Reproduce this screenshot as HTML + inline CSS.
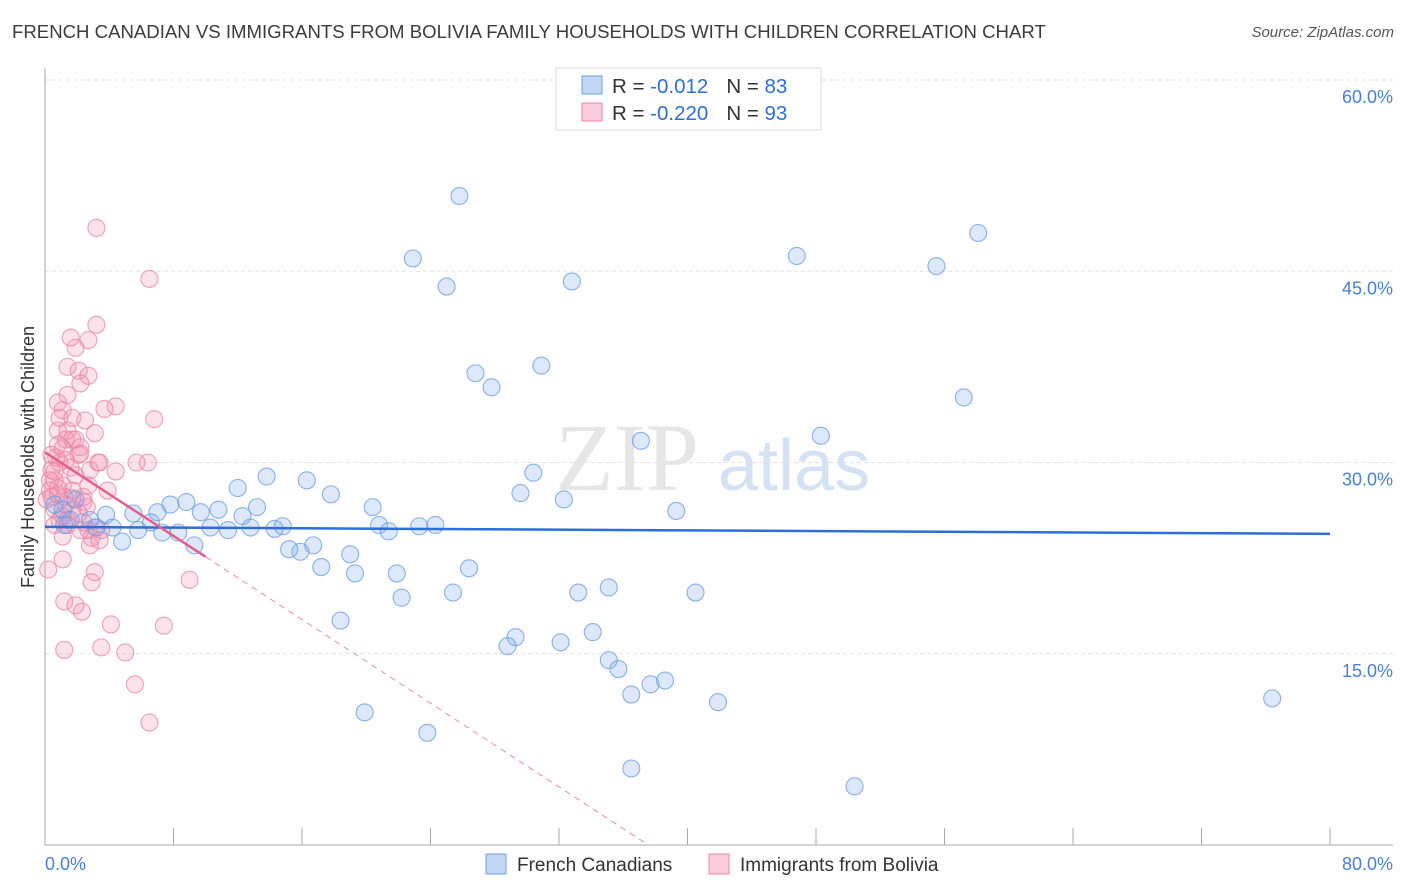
<!DOCTYPE html>
<html><head><meta charset="utf-8"><style>
body{margin:0;background:#fff;font-family:"Liberation Sans",sans-serif}
#wrap{position:relative;width:1406px;height:892px;overflow:hidden}
.title{position:absolute;left:12px;top:21px;font-size:18.6px;color:#3b3b3b}
.src{position:absolute;right:12px;top:24px;font-size:15px;color:#555;font-style:italic}
</style></head><body>
<div id="wrap">
<div class="title">FRENCH CANADIAN VS IMMIGRANTS FROM BOLIVIA FAMILY HOUSEHOLDS WITH CHILDREN CORRELATION CHART</div>
<div class="src">Source: ZipAtlas.com</div>
<svg id="svg" width="1406" height="892" style="position:absolute;left:0;top:0"></svg>
</div>
<script>
const xTicks=[0,8,16,24,32,40,48,56,64,72,80];
const yTicks=[15,30,45,60];
const blueX=[25.8,22.9,25.0,32.8,46.8,55.5,58.1,26.8,27.8,30.9,57.2,37.1,48.3,30.4,29.6,32.3,39.3,16.3,13.8,17.8,12.0,8.8,7.8,9.7,10.8,13.2,20.4,5.5,7.0,3.8,1.1,1.2,3.2,4.2,5.8,6.6,7.3,8.3,10.3,11.4,12.3,12.8,14.3,14.8,20.8,21.4,23.3,24.3,4.8,9.3,15.2,15.9,16.7,19.0,26.4,19.3,21.9,17.2,25.4,22.2,33.2,35.1,40.5,18.4,29.3,28.8,32.1,34.1,35.1,35.7,36.5,37.7,38.6,41.9,76.4,19.9,23.8,36.5,50.4,1.9,2.8,0.6,1.6];
const blueY=[50.9,46.0,43.8,44.2,46.2,45.4,48.0,37.0,35.9,37.6,35.1,31.7,32.1,29.2,27.6,27.1,26.2,28.6,28.9,27.5,28.0,26.9,26.7,26.1,26.3,26.5,26.5,26.0,26.1,25.9,26.3,25.1,24.9,24.9,24.7,25.3,24.5,24.5,24.9,24.7,25.8,24.9,24.8,25.0,25.1,24.6,25.0,25.1,23.8,23.5,23.2,23.0,23.5,22.8,21.7,21.3,21.3,21.8,19.8,19.4,19.8,20.2,19.8,17.6,16.3,15.6,15.9,16.7,14.5,13.8,11.8,12.6,12.9,11.2,11.5,10.4,8.8,6.0,4.6,27.1,25.5,26.7,25.5];
const pinkX=[3.2,6.5,3.2,1.6,2.7,1.9,1.4,2.1,2.7,2.2,3.7,4.4,6.8,1.4,0.8,1.1,0.9,1.7,0.8,1.3,1.7,0.8,2.2,0.4,0.9,1.6,3.3,2.8,4.4,5.7,6.4,0.4,0.6,1.1,0.3,0.8,1.9,2.2,1.2,0.4,2.4,1.7,1.1,1.4,2.1,2.4,2.7,2.9,2.2,1.1,1.3,0.6,3.1,2.4,1.7,1.1,0.2,3.1,2.9,9.0,1.2,1.9,2.3,4.1,7.4,3.5,1.2,5.0,5.6,6.5,3.4,1.3,0.3,2.7,0.9,1.9,2.5,1.4,0.7,3.1,1.7,0.8,3.4,2.8,0.6,2.1,1.1,3.5,0.1,0.6,1.4,2.6,3.9];
const pinkY=[48.4,44.4,40.8,39.8,39.6,39.0,37.5,37.2,36.8,36.2,34.2,34.4,33.4,35.3,34.7,34.1,33.5,33.5,32.5,31.8,31.8,31.4,31.2,30.6,30.0,29.6,30.0,29.4,29.3,30.0,30.0,29.4,28.6,28.2,27.8,27.5,29.0,30.7,27.3,27.3,26.9,26.3,25.8,25.5,26.0,25.3,24.7,24.1,24.7,24.2,26.7,25.1,24.9,27.3,27.8,22.4,21.6,21.4,20.6,20.8,19.1,18.8,18.3,17.3,17.2,15.5,15.3,15.1,12.6,9.6,30.0,30.2,28.6,28.2,25.5,31.8,33.3,32.5,30.4,32.3,27.2,28.0,23.9,23.5,29.3,30.6,31.1,24.7,27.1,26.3,25.1,26.5,27.8];
const blueTrend=[24.95,-0.0068];
const pinkTrend=[30.8,-0.82];
const X=v=>45+v*(1285/80), Y=v=>80+(60-v)*12.75;
const svg=document.getElementById('svg'),NS='http://www.w3.org/2000/svg';
function mk(t,a,p){const e=document.createElementNS(NS,t);for(const k in a)e.setAttribute(k,a[k]);(p||svg).appendChild(e);return e;}
let wm=mk('text',{x:555,y:490,'font-size':96,'font-family':'Liberation Serif,serif',fill:'#e6e6e6'});wm.textContent='ZIP';

let wm2=mk('text',{x:718,y:490,'font-size':72,'font-family':'Liberation Sans,sans-serif',fill:'#d5e2f3'});wm2.textContent='atlas';

yTicks.forEach(t=>{let g=mk('line',{x1:45,x2:1393,y1:Y(t),y2:Y(t),stroke:'#e2e2e2','stroke-dasharray':'4,3'});

let l=mk('text',{x:1393,y:Y(t)+23,'text-anchor':'end','font-size':18,fill:'#4a7fd4'});l.textContent=t.toFixed(1)+'%';
});
let ax=mk('line',{x1:45,x2:45,y1:68,y2:845,stroke:'#aaa'});
let bx=mk('line',{x1:45,x2:1393,y1:845,y2:845,stroke:'#aaa'});
xTicks.forEach(t=>{let k=mk('line',{x1:X(t),x2:X(t),y1:828,y2:845,stroke:'#aaa'});});
[[0,'start',45],[80,'end',1393]].forEach(([v,a,x])=>{let l=mk('text',{x:x,y:870,'text-anchor':a,'font-size':18,fill:'#4a7fd4'});l.textContent=v.toFixed(1)+'%';
});
let yt=mk('text',{transform:'translate(34,457) rotate(-90)','text-anchor':'middle','font-size':18,fill:'#333'});yt.textContent='Family Households with Children';

pinkX.forEach((x,i)=>{let c=mk('circle',{cx:X(x),cy:Y(pinkY[i]),r:8.5,fill:'rgba(244,143,177,0.25)',stroke:'rgba(232,137,168,0.8)','stroke-width':1.1});
});
blueX.forEach((x,i)=>{let c=mk('circle',{cx:X(x),cy:Y(blueY[i]),r:8.5,fill:'rgba(120,165,235,0.25)',stroke:'rgba(111,159,227,0.8)','stroke-width':1.1});
});
let bl=mk('line',{x1:X(0),x2:X(80),y1:Y(blueTrend[0]),y2:Y(blueTrend[0]+blueTrend[1]*80),stroke:'#2d6fd6','stroke-width':2.5});

const pe=-pinkTrend[0]/pinkTrend[1];
let pl=mk('line',{x1:X(0),x2:X(10),y1:Y(pinkTrend[0]),y2:Y(pinkTrend[0]+pinkTrend[1]*10),stroke:'#e4608c','stroke-width':2.5});

let pd=mk('line',{x1:X(10),x2:X(pe),y1:Y(pinkTrend[0]+pinkTrend[1]*10),y2:Y(0),stroke:'#e889a8','stroke-width':1,'stroke-dasharray':'6,5'});

let lb=mk('rect',{x:556,y:68,width:265,height:62,fill:'#fff',stroke:'#ddd'});
[['R = ','-0.012','83','rgba(120,165,235,0.45)','#6f9fe3',86],['R = ','-0.220','93','rgba(244,143,177,0.45)','#e889a8',113]].forEach(([a,r,n,f,s,y])=>{
let sw=mk('rect',{x:582,y:y-10,width:20,height:18,fill:f,stroke:s});
let t=mk('text',{x:612,y:y+7,'font-size':20.5,fill:'#333'});t.innerHTML=a+'<tspan fill="#2d6fd6"> '+r+'</tspan><tspan dx="18">N = </tspan><tspan fill="#2d6fd6">'+n+'</tspan>';
});
[['French Canadians','rgba(120,165,235,0.45)','#6f9fe3',486],['Immigrants from Bolivia','rgba(244,143,177,0.45)','#e889a8',709]].forEach(([n,f,s,x])=>{
let sw=mk('rect',{x:x,y:854,width:20,height:20,fill:f,stroke:s});
let t=mk('text',{x:x+31,y:871,'font-size':19,fill:'#333'});t.textContent=n;});
</script>
</body></html>
